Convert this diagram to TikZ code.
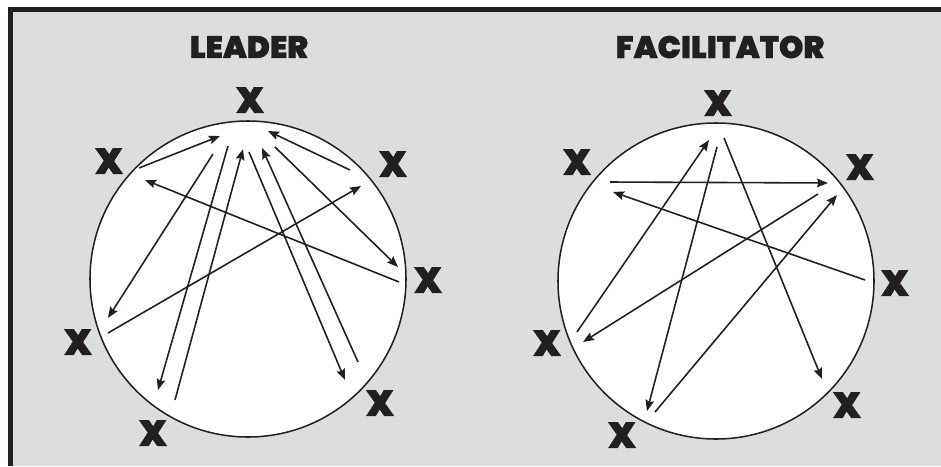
\documentclass[tikz,border=0pt]{standalone}
\usepackage{fontspec}
\newfontfamily\heavyfont{Poppins Black}[FakeBold=0.8]
\usepackage{xcolor}
\usepackage{tikz}
\usetikzlibrary{arrows.meta}
\definecolor{mPanelGrey}{HTML}{DCDDDF}
\definecolor{mInk}{HTML}{231F20}

\begin{document}
\begin{tikzpicture}[x=0.03cm, y=-0.03cm,
  ring/.style={circle, draw=mInk, line width=1.3pt, fill=white, minimum size=9.48cm, inner sep=0pt},
  member/.style={font=\heavyfont\fontsize{31}{31}\selectfont, text=mInk, inner sep=0pt},
  heading/.style={font=\heavyfont\fontsize{26.5}{26.5}\selectfont, text=mInk, inner sep=0pt},
  arr/.style={-{Stealth[length=0.33cm, width=0.26cm, inset=0.05cm]}, mInk, line width=1.35pt}]
\useasboundingbox (0,0) rectangle (941,466);
% frame
\fill[white] (0,0) rectangle (941,466);
\fill[mInk] (8,7) rectangle (941,466);
\fill[mPanelGrey] (13,12) rectangle (941,466);

% leader
\node[heading] (leadtitle) at (249,47) {LEADER};
\node[ring] (lring) at (248,279) {};
\node[member] (lt) at (250,100) {X};
\node[member] (lul) at (109,161) {X};
\node[member] (lur) at (393,164) {X};
\node[member] (lr) at (428,280) {X};
\node[member] (ll) at (78,342) {X};
\node[member] (lll) at (153,433) {X};
\node[member] (llr) at (380,403) {X};
\coordinate (l1s) at (139,168);  \coordinate (l1e) at (220,136);
\coordinate (l2s) at (213,154);  \coordinate (l2e) at (108,318);
\coordinate (l3s) at (228,146);  \coordinate (l3e) at (158,390);
\coordinate (l4s) at (175,400);  \coordinate (l4e) at (243,149);
\coordinate (l5s) at (249,152);  \coordinate (l5e) at (345,380);
\coordinate (l6s) at (358,362);  \coordinate (l6e) at (262,148);
\coordinate (l7s) at (350,170);  \coordinate (l7e) at (268,131);
\coordinate (l8s) at (275,147);  \coordinate (l8e) at (398,267);
\coordinate (l9s) at (399,282);  \coordinate (l9e) at (145,180);
\coordinate (l10s) at (108,333); \coordinate (l10e) at (361,186);
\foreach \i in {1,...,10} \draw[arr] (l\i s) -- (l\i e);

% facilitator
\node[heading] (facititle) at (720,47) {FACILITATOR};
\node[ring] (fring) at (716,281) {};
\node[member] (ft) at (718,103) {X};
\node[member] (ful) at (577,162) {X};
\node[member] (fur) at (860,167) {X};
\node[member] (fr) at (895,283) {X};
\node[member] (fl) at (547,343) {X};
\node[member] (fll) at (622,435) {X};
\node[member] (flr) at (847,405) {X};
\coordinate (f1s) at (610,182); \coordinate (f1e) at (828,183);
\coordinate (f2s) at (865,280); \coordinate (f2e) at (613,192);
\coordinate (f3s) at (577,332); \coordinate (f3e) at (709,140);
\coordinate (f4s) at (717,147); \coordinate (f4e) at (647,411);
\coordinate (f5s) at (724,138); \coordinate (f5e) at (822,379);
\coordinate (f6s) at (818,194); \coordinate (f6e) at (583,342);
\coordinate (f7s) at (655,412); \coordinate (f7e) at (837,195);
\foreach \i in {1,...,7} \draw[arr] (f\i s) -- (f\i e);
\end{tikzpicture}
\end{document}
